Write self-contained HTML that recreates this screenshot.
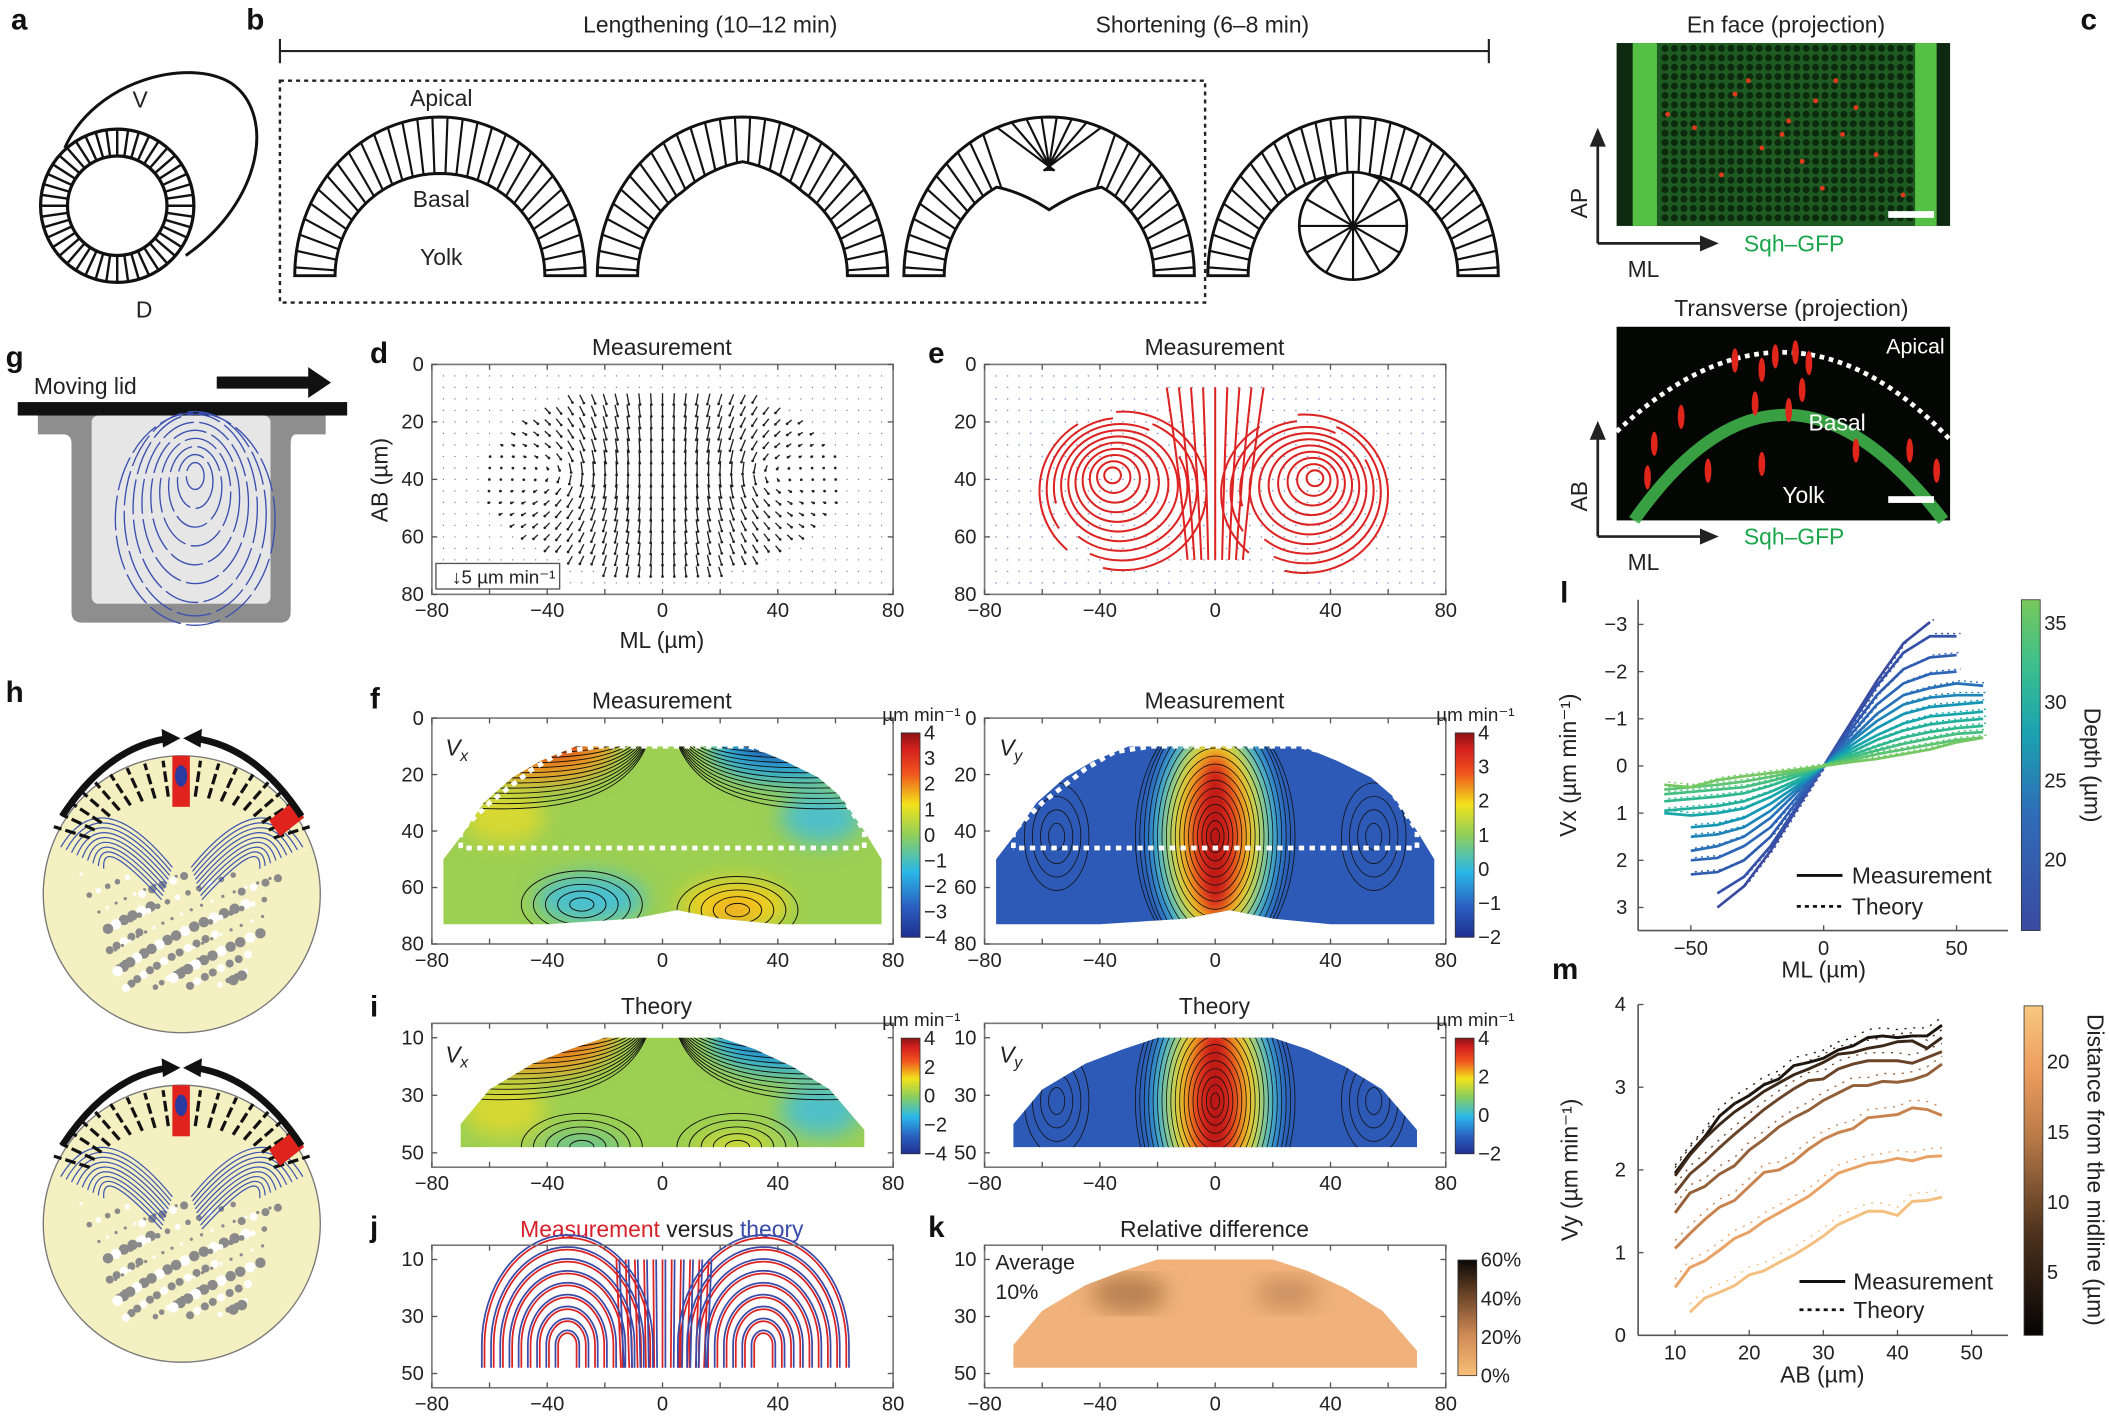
<!DOCTYPE html>
<html><head><meta charset="utf-8">
<style>
html,body{margin:0;padding:0;background:#fff;}
svg{display:block;font-family:"Liberation Sans",Arial,sans-serif;}
</style></head>
<body>
<svg id="fig" width="2109" height="1416" viewBox="0 0 1568 1053" xmlns="http://www.w3.org/2000/svg">
<defs>
  <linearGradient id="jet" x1="0" y1="1" x2="0" y2="0">
    <stop offset="0" stop-color="#20308f"/><stop offset="0.15" stop-color="#2a5fc0"/>
    <stop offset="0.32" stop-color="#2ab8e8"/><stop offset="0.5" stop-color="#8fcf5a"/>
    <stop offset="0.65" stop-color="#f2e21c"/><stop offset="0.8" stop-color="#f0551e"/>
    <stop offset="0.92" stop-color="#d4201e"/><stop offset="1" stop-color="#8a1414"/>
  </linearGradient>
  <linearGradient id="depthcb" x1="0" y1="1" x2="0" y2="0">
    <stop offset="0" stop-color="#3a4aa0"/><stop offset="0.35" stop-color="#2f6cb8"/>
    <stop offset="0.6" stop-color="#1aa3b0"/><stop offset="0.8" stop-color="#3cbf8e"/><stop offset="1" stop-color="#78c85a"/>
  </linearGradient>
  <linearGradient id="distcb" x1="0" y1="1" x2="0" y2="0">
    <stop offset="0" stop-color="#050403"/><stop offset="0.3" stop-color="#4a301c"/>
    <stop offset="0.6" stop-color="#b87a48"/><stop offset="0.8" stop-color="#ec9c5e"/><stop offset="1" stop-color="#f8c880"/>
  </linearGradient>
  <linearGradient id="kcb" x1="0" y1="1" x2="0" y2="0">
    <stop offset="0" stop-color="#f7bf78"/><stop offset="0.35" stop-color="#d08a54"/>
    <stop offset="0.7" stop-color="#6a4428"/><stop offset="1" stop-color="#0b0806"/>
  </linearGradient>
  <filter id="blur8"><feGaussianBlur stdDeviation="8"/></filter>
  <filter id="blur5"><feGaussianBlur stdDeviation="5"/></filter>
  <filter id="blur3"><feGaussianBlur stdDeviation="3"/></filter>
</defs>
<g id="root"></g>
</svg>
<script>
// ---------- chart data (panel l) ----------
const mlPoints = [-60,-50,-40,-30,-20,-10,0,10,20,30,40,50,60];
const depthValues = [17,19,20.5,22,23.5,25,26.5,28,29.5,31,32.5,34,36];
const vxSeries = [
 [null,null,3.0,2.55,1.8,0.9,0,-0.9,-1.8,-2.6,-3.05,null,null],
 [null,null,2.7,2.35,1.7,0.85,0,-0.85,-1.7,-2.4,-2.75,-2.75,null],
 [null,2.3,2.25,2.0,1.5,0.75,0,-0.75,-1.5,-2.05,-2.3,-2.35,null],
 [null,2.0,1.95,1.7,1.3,0.65,0,-0.65,-1.3,-1.75,-1.95,-2.0,null],
 [null,1.8,1.7,1.5,1.1,0.55,0,-0.55,-1.1,-1.5,-1.65,-1.75,-1.7],
 [null,1.5,1.45,1.3,0.95,0.48,0,-0.5,-0.95,-1.3,-1.45,-1.5,-1.5],
 [null,1.3,1.25,1.1,0.8,0.42,0,-0.42,-0.8,-1.1,-1.25,-1.3,-1.35],
 [1.0,1.05,1.0,0.9,0.66,0.35,0,-0.35,-0.65,-0.9,-1.05,-1.1,-1.15],
 [0.95,0.9,0.85,0.75,0.55,0.3,0,-0.28,-0.55,-0.75,-0.88,-0.95,-1.0],
 [0.75,0.7,0.65,0.58,0.42,0.22,0,-0.22,-0.42,-0.6,-0.72,-0.8,-0.85],
 [0.6,0.55,0.5,0.45,0.32,0.17,0,-0.17,-0.33,-0.47,-0.58,-0.68,-0.72],
 [0.5,0.45,0.4,0.33,0.23,0.12,0,-0.12,-0.25,-0.35,-0.45,-0.55,-0.6],
 [0.4,0.45,0.3,0.22,0.15,0.08,0,-0.08,-0.15,-0.25,-0.35,-0.5,-0.6]
];
const depthColors = ["#3a4aa0","#3552a8","#305cb0","#2c66b6","#2870b8","#1f84b8","#1596b4","#18a6aa","#22b09c","#2fb88e","#44bf80","#5cc472","#74c864"];
const lXTicks = [-50,0,50];
const lYTicks = [-3,-2,-1,0,1,2,3];
const depthTicks = [20,25,30,35];
// ---------- chart data (panel m) ----------
const abPoints = [10,12,14,16,18,20,22,24,26,28,30,32,34,36,38,40,42,44,46];
const distValues = [2,5,8,12,16,20,23];
const vySeries = [
 [1.96,2.2,2.4,2.65,2.8,2.9,3.03,3.1,3.26,3.3,3.35,3.45,3.5,3.6,3.62,3.6,3.62,3.62,3.75],
 [1.93,2.18,2.38,2.55,2.7,2.82,2.95,3.05,3.15,3.22,3.3,3.4,3.42,3.47,3.5,3.55,3.56,3.47,3.6],
 [1.72,1.95,2.1,2.27,2.43,2.58,2.73,2.86,2.98,3.08,3.1,3.22,3.28,3.32,3.32,3.32,3.29,3.36,3.43],
 [1.48,1.72,1.8,1.95,2.05,2.24,2.37,2.52,2.63,2.72,2.84,2.93,3.02,3.02,3.07,3.06,3.09,3.15,3.28],
 [1.05,1.23,1.4,1.55,1.63,1.8,1.97,2.0,2.1,2.25,2.37,2.45,2.5,2.63,2.65,2.67,2.75,2.73,2.66],
 [0.58,0.82,0.9,1.03,1.17,1.25,1.38,1.48,1.58,1.68,1.82,1.96,2.02,2.08,2.1,2.14,2.11,2.16,2.17],
 [null,0.28,0.45,0.52,0.6,0.73,0.78,0.88,0.97,1.08,1.2,1.34,1.42,1.5,1.5,1.45,1.62,1.63,1.67]
];
const distColors = ["#1c140e","#3b2818","#6a4428","#93603a","#c9834f","#e9a266","#f3c07f"];
const mXTicks = [10,20,30,40,50];
const mYTicks = [0,1,2,3,4];
const distTicks = [5,10,15,20];
// ---------- map-axes ticks ----------
const mlTicks = [-80,-40,0,40,80];
const abTicksFull = [0,20,40,60,80];
const abTicksShort = [10,30,50];

const NS="http://www.w3.org/2000/svg";
const root=document.getElementById('root');
function el(tag,attrs,parent,txt){const e=document.createElementNS(NS,tag);for(const k in attrs)e.setAttribute(k,attrs[k]);if(txt!==undefined)e.textContent=txt;(parent||root).appendChild(e);return e;}
function grp(name,parent){const g=el('g',{},parent);


return g;}
function txt(g,x,y,s,size,opts){opts=opts||{};const t=el('text',Object.assign({x:x,y:y,'font-size':size,'text-anchor':opts.anchor||'middle',fill:opts.fill||'#222'},opts.extra||{}),g,s);


return t;}

// ---- panel letters ----
const letters=[['a',8,22],['b',183,22],['c',1547,22],['g',4,273],['d',275,270],['e',690,270],['h',4,522],['f',275,527],['i',275,756],['j',275,920],['k',690,920],['l',1160,448],['m',1154,728]];
const lg=grp('panel-letters');
letters.forEach(l=>{txt(lg,l[1],l[2],l[0],22,{anchor:'start',fill:'#111',extra:{'font-weight':'bold'},name:'panel-letter-'+l[0]});});

// ---- panel a ----
(function(){const g=grp('panel-a-egg-diagram');
el('path',{d:'M48,110 C70,60 140,42 172,62 C205,85 195,150 138,190',fill:'none',stroke:'#111','stroke-width':2.2},g);
const cx=87,cy=153,R=57,r=37;
el('circle',{cx:cx,cy:cy,r:R,fill:'#fff',stroke:'#111','stroke-width':2.4},g);
el('circle',{cx:cx,cy:cy,r:r,fill:'#fff',stroke:'#111','stroke-width':2.4},g);
for(let i=0;i<44;i++){const a=i/44*2*Math.PI;el('line',{x1:cx+r*Math.cos(a),y1:cy+r*Math.sin(a),x2:cx+R*Math.cos(a),y2:cy+R*Math.sin(a),stroke:'#111','stroke-width':1.8},g);}
txt(g,104,80,'V',17);txt(g,107,236,'D',17);})();

// ---- panel b ----
(function(){const g=grp('panel-b-schematics');
el('line',{x1:208,y1:38,x2:1107,y2:38,stroke:'#222','stroke-width':1.6},g);
el('line',{x1:208,y1:29,x2:208,y2:47,stroke:'#222','stroke-width':1.6},g);
el('line',{x1:1107,y1:29,x2:1107,y2:47,stroke:'#222','stroke-width':1.6},g);
txt(g,528,24,'Lengthening (10–12 min)',17);txt(g,894,24,'Shortening (6–8 min)',17);
el('rect',{x:208,y:60,width:688,height:165,fill:'none',stroke:'#222','stroke-width':1.8,'stroke-dasharray':'3,3'},g);
function arch(cx,kind){const base=205,Ro=108,Ry=118,ri=78,riy=76;
 const outer=[],inner=[];
 for(let t=180;t>=0;t-=3){const a=t*Math.PI/180;outer.push([cx+Ro*Math.cos(a),base-Math.min(Ry*Math.sin(a),Ry)]);
  let y=base-riy*Math.sin(a);const dd=Math.abs(t-90);
  if(kind==2&&dd<35) y-= (35-dd)*0.25;
  if(kind==3&&dd<30) y+= (30-dd)*0.9;
  inner.push([cx+ri*Math.cos(a),y]);}
 let d='M'+outer.map(p=>p.join(',')).join(' L')+' L'+inner.slice().reverse().map(p=>p.join(',')).join(' L')+' Z';
 el('path',{d:d,fill:'#fff',stroke:'#111','stroke-width':2.2},g);
 for(let i=1;i<outer.length-1;i+=2){let ix=inner[i][0],iy=inner[i][1];
  const t=180-i*3;if(kind==3&&Math.abs(t-90)<25){ix=cx+(t-90)*0.2;iy=base-78;}
  el('line',{x1:ix,y1:iy,x2:outer[i][0],y2:outer[i][1],stroke:'#111','stroke-width':1.6},g);}
}
arch(327,1);arch(552,2);arch(780,3);arch(1006,1);
el('circle',{cx:1006,cy:168,r:40,fill:'#fff',stroke:'#111','stroke-width':2},g);
for(let i=0;i<12;i++){const a=i/12*2*Math.PI;el('line',{x1:1006,y1:168,x2:1006+40*Math.cos(a),y2:168+40*Math.sin(a),stroke:'#111','stroke-width':1.6},g);}
txt(g,328,79,'Apical',17);txt(g,328,154,'Basal',17);txt(g,328,197,'Yolk',17);})();

// ---- panel c ----
(function(){const g=grp('panel-c-microscopy');
txt(g,1328,24,'En face (projection)',17);
el('rect',{x:1202,y:32,width:248,height:136,fill:'#0d2a10'},g);
el('rect',{x:1214,y:32,width:224,height:136,fill:'#1e5a22'},g);
el('rect',{x:1214,y:32,width:18,height:136,fill:'#55c045'},g);
el('rect',{x:1424,y:32,width:16,height:136,fill:'#55c045'},g);
for(let yy=36;yy<168;yy+=7)for(let xx=1235;xx<1422;xx+=7)el('circle',{cx:xx+(yy%14?3:0),cy:yy,r:2.6,fill:'#0c2a0e'},g);
const reds=[[1290,70],[1330,90],[1350,75],[1370,100],[1310,110],[1380,80],[1260,95],[1340,120],[1300,60],[1355,140],[1395,115],[1280,130],[1325,100],[1365,60],[1240,85],[1415,145]];
reds.forEach(p=>el('circle',{cx:p[0],cy:p[1],r:1.8,fill:'#e23a1a'},g));
el('rect',{x:1404,y:157,width:34,height:5,fill:'#fff'},g);
txt(g,1332,235,'Transverse (projection)',17);
el('rect',{x:1202,y:243,width:248,height:144,fill:'#040604'},g);
el('path',{d:'M1215,387 Q1325,230 1445,387',fill:'none',stroke:'#3fb04a','stroke-width':9,opacity:0.9},g);
el('path',{d:'M1202,321 Q1330,200 1450,327',fill:'none',stroke:'#fff','stroke-width':3.5,'stroke-dasharray':'3.5,3.5'},g);
[[1290,268],[1310,275],[1320,265],[1335,262],[1345,270],[1305,300],[1330,305],[1340,290],[1250,310],[1230,330],[1225,355],[1270,350],[1310,345],[1380,335],[1440,350],[1420,335]].forEach(p=>el('ellipse',{cx:p[0],cy:p[1],rx:2.5,ry:9,fill:'#e0261a'},g));
txt(g,1446,263,'Apical',16,{fill:'#fff',anchor:'end'});txt(g,1366,320,'Basal',17,{fill:'#fff'});txt(g,1341,374,'Yolk',17,{fill:'#fff'});
el('rect',{x:1404,y:369,width:34,height:5,fill:'#fff'},g);
function axesArrow(y0,lab){el('line',{x1:1188,y1:y0,x2:1188,y2:y0-78,stroke:'#222','stroke-width':2},g);el('path',{d:`M1182,${y0-72} L1188,${y0-86} L1194,${y0-72} Z`,fill:'#222'},g);
el('line',{x1:1188,y1:y0,x2:1270,y2:y0,stroke:'#222','stroke-width':2},g);el('path',{d:`M1264,${y0-6} L1278,${y0} L1264,${y0+6} Z`,fill:'#222'},g);
txt(g,1180,y0-30,lab,17,{extra:{transform:`rotate(-90 1180 ${y0-30})`},anchor:'middle'});txt(g,1222,y0+25,'ML',17);txt(g,1334,y0+6,'Sqh–GFP',17,{fill:'#1aa54a'});}
axesArrow(181,'AP');axesArrow(399,'AB');})();

// ---- panel g ----
(function(){const g=grp('panel-g-lid-cavity');
txt(g,25,293,'Moving lid',17,{anchor:'start'});
el('rect',{x:161,y:280,width:70,height:9,fill:'#111'},g);el('path',{d:'M229,273 L246,284.5 L229,296 Z',fill:'#111'},g);
el('path',{d:'M28,309 L242,309 L242,323 L220,323 Q216,323 216,330 L216,455 Q216,463 208,463 L61,463 Q53,463 53,455 L53,330 Q53,323 47,323 L28,323 Z',fill:'#8e8e8e'},g);
el('rect',{x:68,y:309,width:133,height:140,rx:5,fill:'#e6e6e6'},g);
el('rect',{x:13,y:299,width:245,height:10,fill:'#111'},g);
const sg=grp('cavity-streamlines',g);
for(let k=1;k<=9;k++){el('ellipse',{cx:145,cy:350+k*4,rx:k*6.6,ry:Math.min(k*10,52+k*3),fill:'none',stroke:'#3a4fb0','stroke-width':1,'stroke-dasharray':'26,4'},sg);}})();

// ---- panel h ----
(function(){const g=grp('panel-h-embryo-diagrams');
function embryo(cy){el('circle',{cx:135,cy:cy,r:103,fill:'#f5f0c2',stroke:'#777','stroke-width':1},g);
 for(let i=0;i<140;i++){const u=(i*0.618034)%1,w=(i*0.754877)%1;const x=135+(u-0.5)*150*(1-w*0.4),y=cy-15+w*85;
  el('circle',{cx:x,cy:y,r:1.2+(i%4)*0.9,fill:i%3?'#8a8a8a':'#fff'},g);}
 for(let k=0;k<9;k++){el('path',{d:`M${45+k*4},${cy-35+k*2} Q${75},${cy-85+k*5} ${128-k},${cy-20+k*3}`,fill:'none',stroke:'#3b55b0','stroke-width':0.9},g);
  el('path',{d:`M${225-k*4},${cy-35+k*2} Q${195},${cy-85+k*5} ${142+k},${cy-20+k*3}`,fill:'none',stroke:'#3b55b0','stroke-width':0.9},g);}
 for(let t=18;t<=162;t+=8){const a=t*Math.PI/180;el('line',{x1:135+72*Math.cos(a),y1:cy-28-45*Math.sin(a),x2:135+100*Math.cos(a),y2:cy-28-72*Math.sin(a),stroke:'#111','stroke-width':2.4,'stroke-dasharray':'8,3'},g);}
 el('rect',{x:128,y:cy-103,width:13,height:38,fill:'#e0231d'},g);el('ellipse',{cx:134.5,cy:cy-88,rx:4.5,ry:8,fill:'#2a3aa0'},g);
 el('path',{d:`M${200},${cy-55} l18,-14 l8,12 l-18,14 Z`,fill:'#e0231d'},g);
 el('path',{d:`M46,${cy-58} Q80,${cy-110} 126,${cy-116}`,fill:'none',stroke:'#111','stroke-width':5},g);el('path',{d:`M120,${cy-123} L134,${cy-116} L121,${cy-109} Z`,fill:'#111'},g);
 el('path',{d:`M224,${cy-58} Q190,${cy-110} 144,${cy-116}`,fill:'none',stroke:'#111','stroke-width':5},g);el('path',{d:`M150,${cy-123} L136,${cy-116} L149,${cy-109} Z`,fill:'#111'},g);}
embryo(665);embryo(910);})();

// ---- generic map-axes ----
function mapAxes(name,x0,x1,y0,y1,abMin,abMax,yTicks){const g=grp(name);
 const sx=v=>x0+(v+80)/160*(x1-x0);const sy=v=>y0+(v-abMin)/(abMax-abMin)*(y1-y0);
 return {g,sx,sy,frame(){el('rect',{x:x0,y:y0,width:x1-x0,height:y1-y0,fill:'none',stroke:'#777','stroke-width':1.2},g);
  for(let v=-80;v<=80;v+=20){el('line',{x1:sx(v),y1:y1,x2:sx(v),y2:y1-4,stroke:'#555'},g);el('line',{x1:sx(v),y1:y0,x2:sx(v),y2:y0+4,stroke:'#555'},g);}
  mlTicks.forEach(v=>txt(g,sx(v),y1+17,v<0?'−'+(-v):''+v,15,{name:'x-tick-label'}));
  yTicks.forEach(v=>{txt(g,x0-6,sy(v)+5,''+v,15,{anchor:'end',name:'y-tick-label'});el('line',{x1:x0,y1:sy(v),x2:x0+4,y2:sy(v),stroke:'#555'},g);el('line',{x1:x1,y1:sy(v),x2:x1-4,y2:sy(v),stroke:'#555'},g);});}};}
function colorbar(g,x,y0,y1,grad,ticks,vmin,vmax,unit,fmt){el('rect',{x:x,y:y0,width:14,height:y1-y0,fill:'url(#'+grad+')',stroke:'#333','stroke-width':0.6},g);
 ticks.forEach(v=>{const yy=y1-(v-vmin)/(vmax-vmin)*(y1-y0);txt(g,x+17,yy+5,fmt?fmt(v):(v<0?'−'+(-v):''+v),15,{anchor:'start',name:'colorbar-tick'});});
 if(unit)txt(g,x+15,y0-9,'µm min⁻¹',14,{name:'colorbar-unit'});}
function domeClip(id,A,abTop,abBot){const pts=[[-76,abBot],[-76,50],[-70,42],[-62,30],[-52,21],[-42,15],[-30,abTop],[30,abTop],[42,15],[54,21],[62,28],[70,40],[76,50],[76,abBot],[40,abBot+1],[20,abBot-2],[5,abBot-5],[-10,abBot-2],[-40,abBot+1]];
 const cp=el('clipPath',{id:id},document.querySelector('defs'));el('polygon',{points:pts.map(p=>A.sx(p[0])+','+A.sy(Math.max(Math.min(p[1],abBot),abTop))).join(' ')},cp);}
function trapClip(id,A){const pts=[[-20,10],[20,10],[32,14],[45,20],[58,28],[70,42],[70,48],[-70,48],[-70,40],[-60,28],[-45,19],[-32,14]];
 const cp=el('clipPath',{id:id},document.querySelector('defs'));el('polygon',{points:pts.map(p=>A.sx(p[0])+','+A.sy(p[1])).join(' ')},cp);}

function vxField(A,clip,dense){const g=el('g',{'clip-path':'url(#'+clip+')'},A.g);
 el('rect',{x:A.sx(-80),y:A.sy(0)-60,width:400,height:300,fill:'#9ccf52'},g);
 const b=el('g',{filter:'url(#blur8)'},g);
 el('ellipse',{cx:A.sx(-42),cy:A.sy(10),rx:55,ry:28,fill:'#f0a020'},b);el('ellipse',{cx:A.sx(-42),cy:A.sy(8),rx:38,ry:16,fill:'#d8241e'},b);
 el('ellipse',{cx:A.sx(42),cy:A.sy(10),rx:55,ry:28,fill:'#2ab2e0'},b);el('ellipse',{cx:A.sx(42),cy:A.sy(8),rx:38,ry:16,fill:'#2840a8'},b);
 el('ellipse',{cx:A.sx(-55),cy:A.sy(35),rx:30,ry:20,fill:'#d8d830'},b);el('ellipse',{cx:A.sx(55),cy:A.sy(35),rx:30,ry:20,fill:'#50c0c8'},b);
 if(dense){el('ellipse',{cx:A.sx(-25),cy:A.sy(64),rx:40,ry:18,fill:'#4ac0d0'},b);el('ellipse',{cx:A.sx(25),cy:A.sy(66),rx:40,ry:18,fill:'#f2d21c'},b);el('ellipse',{cx:A.sx(25),cy:A.sy(68),rx:18,ry:8,fill:'#f0a020'},b);}
 else{el('ellipse',{cx:A.sx(-28),cy:A.sy(48),rx:30,ry:8,fill:'#60c0a0'},b);el('ellipse',{cx:A.sx(25),cy:A.sy(48),rx:30,ry:8,fill:'#d8dc30'},b);}
 for(let k=1;k<=16;k++){el('path',{d:`M${A.sx(-80)},${A.sy(0)+k*4} Q${A.sx(-3)},${A.sy(0)+k*4+20} ${A.sx(-3)},${A.sy(0)-10}`,fill:'none',stroke:'#111','stroke-width':0.7},g);
  el('path',{d:`M${A.sx(80)},${A.sy(0)+k*4} Q${A.sx(3)},${A.sy(0)+k*4+20} ${A.sx(3)},${A.sy(0)-10}`,fill:'none',stroke:'#111','stroke-width':0.7},g);}
 for(let k=1;k<=5;k++){el('ellipse',{cx:A.sx(-28),cy:A.sy(dense?66:48),rx:k*9,ry:k*5,fill:'none',stroke:'#111','stroke-width':0.7},g);el('ellipse',{cx:A.sx(26),cy:A.sy(dense?68:48),rx:k*9,ry:k*5,fill:'none',stroke:'#111','stroke-width':0.7},g);}}
function vyField(A,clip,c){const g=el('g',{'clip-path':'url(#'+clip+')'},A.g);
 el('rect',{x:A.sx(-80),y:A.sy(0)-60,width:400,height:300,fill:'#2c5ab6'},g);
 const b=el('g',{filter:'url(#blur5)'},g);const cy=A.sy(c);
 [[48,'#2ab0e0'],[40,'#7ccc6a'],[32,'#e8e020'],[25,'#f08020'],[18,'#e02a1e'],[8,'#b81818']].forEach((s,i)=>el('ellipse',{cx:A.sx(0),cy:cy,rx:s[0],ry:90-i*8,fill:s[1]},b));
 for(let k=1;k<=18;k++)el('ellipse',{cx:A.sx(0),cy:cy,rx:k*3.3,ry:Math.min(k*6,95),fill:'none',stroke:'#111','stroke-width':0.6},g);
 for(let k=1;k<=4;k++){el('ellipse',{cx:A.sx(-55),cy:cy,rx:k*6,ry:k*10,fill:'none',stroke:'#111','stroke-width':0.6},g);el('ellipse',{cx:A.sx(55),cy:cy,rx:k*6,ry:k*10,fill:'none',stroke:'#111','stroke-width':0.6},g);}}
function whiteDash(A){el('polyline',{points:[[-70,46],[-70,40],[-60,30],[-45,18],[-35,12],[-22,10],[30,10],[45,14],[60,24],[70,40],[70,46],[-70,46]].map(p=>A.sx(p[0])+','+A.sy(p[1])).join(' '),fill:'none',stroke:'#fff','stroke-width':3.5,'stroke-dasharray':'4,4'},A.g);}

// ---- d: quiver ----
const quiverML=[-76,-72,-68,-64,-60,-56,-52,-48,-44,-40,-36,-32,-28,-24,-20,-16,-12,-8,-4,0,4,8,12,16,20,24,28,32,36,40,44,48,52,56,60,64,68,72,76];
const quiverAB=[4,8,12,16,20,24,28,32,36,40,44,48,52,56,60,64,68,72,76];
(function(){const A=mapAxes('panel-d-quiver',321,664,271,442,0,80,abTicksFull);txt(A.g,492,264,'Measurement',17,{name:'chart-title'});
 quiverML.forEach(x=>quiverAB.forEach(y=>{const inside=((x*x)/(62*62)+((y-40)*(y-40))/(34*34))<1&&y>8&&y<74;
  let u=0,v=0;if(inside){[[-34,38,1],[34,38,-1]].forEach(c=>{const dx=x-c[0],dy=y-c[1],r2=dx*dx+dy*dy+40;u+=c[2]*(-dy)/Math.sqrt(r2)*0.9;v+=c[2]*(dx)/Math.sqrt(r2)*0.9;});}
  const X=A.sx(x),Y=A.sy(y);if(!inside){el('circle',{cx:X,cy:Y,r:0.5,fill:'#777'},A.g);return;}
  const L=3;el('line',{x1:X-u*L,y1:Y-v*L,x2:X+u*L,y2:Y+v*L,stroke:'#222','stroke-width':1},A.g);el('circle',{cx:X+u*L,cy:Y+v*L,r:1,fill:'#222'},A.g);}));
 el('rect',{x:324,y:419,width:92,height:19,fill:'#fff',stroke:'#555'},A.g);txt(A.g,336,434,'↓5 µm min⁻¹',14,{anchor:'start'});
 A.frame();txt(A.g,492,482,'ML (µm)',17,{name:'x-axis-title'});txt(A.g,288,357,'AB (µm)',17,{extra:{transform:'rotate(-90 288 357)'},name:'y-axis-title'});})();

// ---- e: streamlines ----
const vortexCentersML=[-36,35];
const vortexCenterAB=[38,39];
(function(){const A=mapAxes('panel-e-streamlines',732,1075,271,442,0,80,abTicksFull);txt(A.g,903,264,'Measurement',17,{name:'chart-title'});
 quiverML.forEach(x=>quiverAB.forEach(y=>el('circle',{cx:A.sx(x),cy:A.sy(y),r:0.6,fill:'#8090c8'},A.g)));
 vortexCentersML.forEach((cx,i)=>{for(let k=1;k<=10;k++)el('ellipse',{cx:A.sx(cx+(i?-1:1)*k*0.4),cy:A.sy(vortexCenterAB[i]+k*0.6),rx:k*2.9*2.14,ry:k*2.9*2.14*0.95,fill:'none',stroke:'#dd2222','stroke-width':1.5,'stroke-dasharray':k>7?'110,30':'none'},A.g);});
 for(let x=-12;x<=12;x+=3)el('path',{d:`M${A.sx(x*1.4)},${A.sy(8)} Q${A.sx(x)},${A.sy(40)} ${A.sx(x*0.8)},${A.sy(68)}`,fill:'none',stroke:'#dd2222','stroke-width':1.5},A.g);
 A.frame();})();

// ---- f: measured heatmaps ----
(function(){const A=mapAxes('panel-f-vx-measurement',321,664,534,702,0,80,abTicksFull);txt(A.g,492,527,'Measurement',17,{name:'chart-title'});
 domeClip('clipF1',A,10,73);vxField(A,'clipF1',true);whiteDash(A);A.frame();
 txt(A.g,331,562,'V',17,{anchor:'start',extra:{'font-style':'italic'}});txt(A.g,342,566,'x',12,{anchor:'start',extra:{'font-style':'italic'}});
 colorbar(A.g,670,545,697,'jet',[4,3,2,1,0,-1,-2,-3,-4],-4,4,true);})();
(function(){const A=mapAxes('panel-f-vy-measurement',732,1075,534,702,0,80,abTicksFull);txt(A.g,903,527,'Measurement',17,{name:'chart-title'});
 domeClip('clipF2',A,10,73);vyField(A,'clipF2',42);whiteDash(A);A.frame();
 txt(A.g,743,562,'V',17,{anchor:'start',extra:{'font-style':'italic'}});txt(A.g,754,566,'y',12,{anchor:'start',extra:{'font-style':'italic'}});
 colorbar(A.g,1082,545,697,'jet',[4,3,2,1,0,-1,-2],-2,4,true);})();
// ---- i: theory heatmaps ----
(function(){const A=mapAxes('panel-i-vx-theory',321,664,761,868,5,55,abTicksShort);txt(A.g,488,754,'Theory',17,{name:'chart-title'});
 trapClip('clipI1',A);vxField(A,'clipI1',false);A.frame();
 txt(A.g,331,790,'V',17,{anchor:'start',extra:{'font-style':'italic'}});txt(A.g,342,794,'x',12,{anchor:'start',extra:{'font-style':'italic'}});
 colorbar(A.g,670,772,858,'jet',[4,2,0,-2,-4],-4,4,true);})();
(function(){const A=mapAxes('panel-i-vy-theory',732,1075,761,868,5,55,abTicksShort);txt(A.g,903,754,'Theory',17,{name:'chart-title'});
 trapClip('clipI2',A);vyField(A,'clipI2',32);A.frame();
 txt(A.g,743,790,'V',17,{anchor:'start',extra:{'font-style':'italic'}});txt(A.g,754,794,'y',12,{anchor:'start',extra:{'font-style':'italic'}});
 colorbar(A.g,1082,772,858,'jet',[4,2,0,-2],-2,4,true);})();
// ---- j: streamline comparison ----
(function(){const A=mapAxes('panel-j-streamline-comparison',321,664,926,1032,5,55,abTicksShort);
 const t=el('text',{x:492,y:920,'font-size':17,'text-anchor':'middle'},A.g);
 el('tspan',{fill:'#d8202a'},t,'Measurement');el('tspan',{fill:'#222'},t,' versus ');el('tspan',{fill:'#3a4aa8'},t,'theory');
 [['#dd2222',0],['#3a4aa8',2]].forEach(c=>{[-33,35].forEach(cx=>{for(let k=1;k<=9;k++){const rx=k*3.2*2.14+c[1],ry=k*4.2*2.11+c[1];const X=A.sx(cx),Y=A.sy(40);
  el('path',{d:`M${X-rx},${A.sy(48)} L${X-rx},${Y} A${rx},${ry} 0 0 1 ${X+rx},${Y} L${X+rx},${A.sy(48)}`,fill:'none',stroke:c[0],'stroke-width':1.3},A.g);}});
  for(let x=-16;x<=16;x+=3.2)el('line',{x1:A.sx(x+c[1]*0.5),y1:A.sy(10),x2:A.sx(x*0.9+c[1]*0.5),y2:A.sy(48),stroke:c[0],'stroke-width':1.3},A.g);});
 A.frame();})();
// ---- k: relative difference ----
(function(){const A=mapAxes('panel-k-relative-difference',732,1075,926,1032,5,55,abTicksShort);txt(A.g,903,920,'Relative difference',17,{name:'chart-title'});
 trapClip('clipK',A);const g=el('g',{'clip-path':'url(#clipK)'},A.g);el('rect',{x:732,y:926,width:343,height:106,fill:'#f0b27a'},g);
 const b=el('g',{filter:'url(#blur8)'},g);el('ellipse',{cx:A.sx(-30),cy:A.sy(22),rx:28,ry:14,fill:'#b88050'},b);el('ellipse',{cx:A.sx(25),cy:A.sy(22),rx:24,ry:12,fill:'#cc9060'},b);
 A.frame();txt(A.g,740,944,'Average',16,{anchor:'start'});txt(A.g,740,966,'10%',16,{anchor:'start'});
 colorbar(A.g,1084,937,1023,'kcb',[0,20,40,60],0,60,false,v=>v+'%');})();

// ---- l: Vx vs ML line chart ----
(function(){const g=grp('panel-l-vx-profiles');const x0=1218,x1=1493,y0=446,y1=692;
 const sx=v=>1356+v*(1454.8-1356)/50;const sy=v=>569.6+v*(674-463.5)/6;
 vxSeries.forEach((s,i)=>{let d='';s.forEach((v,j)=>{if(v===null)return;d+=(d?' L':'M')+sx(mlPoints[j])+','+sy(v);});
  const p=el('path',{d:d,fill:'none',stroke:depthColors[i],'stroke-width':2},g);
  
  
  const q=el('path',{d:d,fill:'none',stroke:depthColors[i],'stroke-width':1,'stroke-dasharray':'1.5,3',transform:'translate(3,-2)'},g);
  
  });
 el('line',{x1:x0,y1:y0,x2:x0,y2:y1,stroke:'#555','stroke-width':1.2},g);el('line',{x1:x0,y1:y1,x2:x1,y2:y1,stroke:'#555','stroke-width':1.2},g);
 lXTicks.forEach(v=>{el('line',{x1:sx(v),y1:y1,x2:sx(v),y2:y1-4,stroke:'#555'},g);txt(g,sx(v),y1+18,v<0?'−'+(-v):''+v,15,{name:'x-tick-label'});});
 lYTicks.forEach(v=>{el('line',{x1:x0,y1:sy(v),x2:x0+4,y2:sy(v),stroke:'#555'},g);txt(g,x0-8,sy(v)+5,v<0?'−'+(-v):''+v,15,{anchor:'end',name:'y-tick-label'});});
 txt(g,1356,727,'ML (µm)',17,{name:'x-axis-title'});
 txt(g,1172,569,'Vx (µm min⁻¹)',17,{extra:{transform:'rotate(-90 1172 569)'},name:'y-axis-title'});
 el('line',{x1:1336,y1:651,x2:1370,y2:651,stroke:'#111','stroke-width':2.2},g);txt(g,1377,657,'Measurement',17,{anchor:'start',name:'legend-measurement'});
 el('line',{x1:1336,y1:674,x2:1370,y2:674,stroke:'#111','stroke-width':2,'stroke-dasharray':'3,3'},g);txt(g,1377,680,'Theory',17,{anchor:'start',name:'legend-theory'});
 colorbar(g,1503,446,692,'depthcb',depthTicks,15.5,36.5,false);
 txt(g,1550,569,'Depth (µm)',17,{extra:{transform:'rotate(90 1550 569)'},name:'colorbar-title'});})();

// ---- m: Vy vs AB line chart ----
(function(){const g=grp('panel-m-vy-profiles');const x0=1218,x1=1493,y0=747,y1=993;
 const sx=v=>1245.5+(v-10)*(1466-1245.5)/40;const sy=v=>993-v*(993-747)/4;
 vySeries.forEach((s,i)=>{let d='';s.forEach((v,j)=>{if(v===null)return;d+=(d?' L':'M')+sx(abPoints[j])+','+sy(v);});
  const p=el('path',{d:d,fill:'none',stroke:distColors[i],'stroke-width':2.2},g);
  
  
  const q=el('path',{d:d,fill:'none',stroke:distColors[i],'stroke-width':1,'stroke-dasharray':'1.5,5',transform:'translate(0,-6)'},g);
  
  });
 el('line',{x1:x0,y1:y0,x2:x0,y2:y1,stroke:'#555','stroke-width':1.2},g);el('line',{x1:x0,y1:y1,x2:x1,y2:y1,stroke:'#555','stroke-width':1.2},g);
 mXTicks.forEach(v=>{el('line',{x1:sx(v),y1:y1,x2:sx(v),y2:y1-4,stroke:'#555'},g);txt(g,sx(v),y1+18,''+v,15,{name:'x-tick-label'});});
 mYTicks.forEach(v=>{el('line',{x1:x0,y1:sy(v),x2:x0+4,y2:sy(v),stroke:'#555'},g);txt(g,x0-9,sy(v)+5,''+v,15,{anchor:'end',name:'y-tick-label'});});
 txt(g,1355,1028,'AB (µm)',17,{name:'x-axis-title'});
 txt(g,1173,870,'Vy (µm min⁻¹)',17,{extra:{transform:'rotate(-90 1173 870)'},name:'y-axis-title'});
 el('line',{x1:1338,y1:953,x2:1372,y2:953,stroke:'#111','stroke-width':2.2},g);txt(g,1378,959,'Measurement',17,{anchor:'start',name:'legend-measurement'});
 el('line',{x1:1338,y1:974,x2:1372,y2:974,stroke:'#111','stroke-width':2,'stroke-dasharray':'3,3'},g);txt(g,1378,980,'Theory',17,{anchor:'start',name:'legend-theory'});
 colorbar(g,1505,748,993,'distcb',distTicks,0.5,24,false);
 txt(g,1552,870,'Distance from the midline (µm)',17,{extra:{transform:'rotate(90 1552 870)'},name:'colorbar-title'});})();
</script>
</body></html>
